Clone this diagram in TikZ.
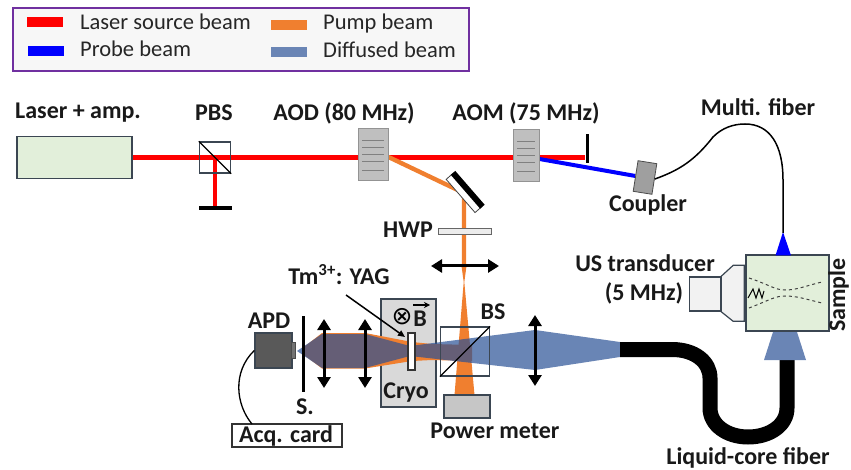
\documentclass[tikz,border=0pt]{standalone}
\usepackage{fontspec}
\setmainfont{Carlito}
\newfontfamily\symfont{DejaVu Sans}
\usetikzlibrary{arrows.meta,backgrounds,calc}
\definecolor{laserred}{HTML}{FF0000}
\definecolor{probeblue}{HTML}{0000FF}
\definecolor{pumporange}{HTML}{F07F2F}
\definecolor{diffblue}{HTML}{6A85B5}
\definecolor{diffbase}{RGB}{42,81,149}
\definecolor{paleGreen}{HTML}{E2EFDA}
\definecolor{edgeSlate}{HTML}{3B4652}
\definecolor{legendEdge}{HTML}{7030A0}

\begin{document}
\begin{tikzpicture}[
  x=1pt,
  y=-1pt,
  >={Triangle[width=13pt,length=11pt]},
  box/.style={
    rectangle,
    draw=edgeSlate,
    line width=1.4pt,
    inner sep=0pt
  },
  swatch/.style={rectangle, minimum width=36pt, minimum height=10pt, inner sep=0pt},
  aoblock/.style={box, draw=gray!85, fill=gray!50, line width=1pt},
  stopbar/.style={rectangle, fill=black, inner sep=0pt},
  gratline/.style={draw=gray, line width=1pt},
  lens/.style={draw=black, line width=3pt, <->},
  redbeam/.style={draw=laserred, line width=4.2pt},
  bluebeam/.style={draw=probeblue, line width=4pt},
  orangebeam/.style={draw=pumporange, line width=4.4pt},
  label/.style={font=\fontsize{24}{28}\selectfont\bfseries, text=black!90, inner sep=0pt, align=center, anchor=base},
  legendtext/.style={font=\fontsize{22.5}{26}\selectfont, text=black!85, inner sep=0pt, anchor=base west}
]
\useasboundingbox (0,0) rectangle (851,470);

% ---------------------------------------------------------------------------
% Legend
% ---------------------------------------------------------------------------
\node[rectangle, draw=legendEdge, fill=gray!6, line width=1.6pt, minimum width=456pt, minimum height=63pt] (legend) at (241,39.5) {};
\node[swatch, fill=laserred] (swred) at (45,22) {};
\node[swatch, fill=probeblue] (swblue) at (45.5,51) {};
\node[swatch, fill=pumporange] (sworange) at (289,25) {};
\node[swatch, fill=diffblue] (swdiff) at (289,52) {};
\node[legendtext] (txtred) at (80,30) {Laser source beam};
\node[legendtext] (txtblue) at (80,57) {Probe beam};
\node[legendtext] (txtorange) at (323,29.5) {Pump beam};
\node[legendtext] (txtdiff) at (323,58) {Diffused beam};

% ---------------------------------------------------------------------------
% Upper rail
% ---------------------------------------------------------------------------
\node[box, fill=paleGreen, minimum width=115pt, minimum height=42pt] (laser) at (74.5,157.5) {};
\node[label] (laserlabel) at (78,119) {Laser + amp.};
\node[box, line width=1.3pt, minimum size=31pt] (pbs) at (215,157.5) {};
\node[label] (pbslabel) at (214,121) {PBS};
\draw[line width=1.3pt] (pbs.north west) -- (pbs.south east);
\node[stopbar, minimum width=33pt, minimum height=4pt] (pbsstop) at (215,208) {};

\node[aoblock, minimum width=30pt, minimum height=52pt] (aod) at (373,155) {};
\node[label] (aodlabel) at (344,121) {AOD (80 MHz)};
\node[aoblock, minimum width=26pt, minimum height=52pt] (aom) at (526,156) {};
\node[label] (aomlabel) at (526,121) {AOM (75 MHz)};
\foreach \dy in {-14,-7,0,7,16} {
  \draw[gratline] ($(aod)+(-11,\dy)$) -- ++(22,0);
  \draw[gratline] ($(aom)+(-9,\dy)$) -- ++(18,0);
}
\node[stopbar, minimum width=3pt, minimum height=29pt] (aomstop) at (587,148.5) {};

\node[rectangle, draw=black!75, fill=white, line width=.8pt, minimum width=44pt, minimum height=9pt, inner sep=0pt, rotate=-49] (mirror) at (464,193) {};
\draw[line width=6pt] (mirror.north west) -- (mirror.north east);
\node[rectangle, draw=gray!80!black, fill=gray!15, line width=1pt, minimum width=53pt, minimum height=6pt, inner sep=0pt] (hwp) at (464.5,232) {};
\node[label] (hwplabel) at (408,238) {HWP};
\coordinate (focusL) at (431,266);
\coordinate (focusR) at (499,266);
\draw[lens] (focusL) -- (focusR);

\node[rectangle, draw=gray!60!black, fill=gray!75, line width=.8pt, minimum width=19pt, minimum height=31pt, inner sep=0pt, rotate=-9] (coupler) at (645,177.5) {};
\node[label] (couplerlabel) at (648,212) {Coupler};
\node[label] (multilabel) at (758,116) {Multi. fiber};

% ---------------------------------------------------------------------------
% Detection rail
% ---------------------------------------------------------------------------
\node[box, line width=1.4pt, fill=black!65, minimum width=37pt, minimum height=35pt] (apd) at (273.5,350.5) {};
\node[rectangle, draw=black!70, fill=black!55, minimum width=4pt, minimum height=16pt, inner sep=0pt] (apdwin) at (293,350.5) {};
\node[label] (apdlabel) at (269,328) {APD};
\node[stopbar, minimum width=3pt, minimum height=76pt] (slit) at (303,354) {};
\node[label] (slitlabel) at (305,414) {S.};
\node[rectangle, draw=black!80, line width=1.3pt, minimum width=110pt, minimum height=23pt, inner sep=0pt] (acq) at (287,435.5) {};
\node[label] (acqlabel) at (286,442) {Acq. card};
\coordinate (acqtop) at (252,424);
\draw[line width=1.3pt] (apd.west) .. controls (232,372) and (236,405) .. (acqtop);

\coordinate (lensAa) at (324,319);
\coordinate (lensAb) at (324,388);
\coordinate (lensBa) at (365,319);
\coordinate (lensBb) at (365,388);
\coordinate (lensCa) at (535,315);
\coordinate (lensCb) at (535,386);
\draw[lens] (lensAa) -- (lensAb);
\draw[lens] (lensBa) -- (lensBb);
\draw[lens] (lensCa) -- (lensCb);

\node[rectangle, draw=black!80, fill=white, line width=1.2pt, minimum width=7pt, minimum height=37pt, inner sep=0pt] (crystal) at (411.5,351.5) {};
\node[label] (cryolabel) at (406,398) {Cryo};
\node[font=\symfont\fontsize{25}{26}\selectfont, inner sep=0pt] (otimes) at (402,317) {⊗};
\node[label] (bfield) at (420,326) {B};
\coordinate (bfieldL) at (413,305);
\coordinate (bfieldR) at (430,305);
\draw[line width=1.4pt, -{Stealth[width=6pt,length=6pt]}] (bfieldL) -- (bfieldR);
\node[label] (tmlabel) at (339,285) {Tm\textsuperscript{3+}: YAG};
\coordinate (tmtail) at (346,295);
\coordinate (tmtip) at (405,337);
\draw[line width=1.5pt, -{Triangle[width=6pt,length=7pt]}] (tmtail) -- (tmtip);

\node[rectangle, draw=edgeSlate, line width=1.2pt, minimum size=49pt, inner sep=0pt] (bs) at (465,351.5) {};
\node[label] (bslabel) at (493,319) {BS};
\draw[line width=1.2pt] (bs.south west) -- (bs.north east);
\node[box, fill=gray!45, line width=1.3pt, minimum width=46pt, minimum height=23pt] (meter) at (467,406.5) {};
\node[label] (meterlabel) at (495,438) {Power meter};

% ---------------------------------------------------------------------------
% Sample side
% ---------------------------------------------------------------------------
\node[box, fill=paleGreen, minimum width=83pt, minimum height=76pt] (sample) at (787.5,293) {};
\node[label, rotate=90] (samplelabel) at (845,295) {Sample};
\node[label] (uslabel) at (645,272) {US transducer};
\node[label] (usfreq) at (644,301) {(5 MHz)};
\node[box, fill=gray!10, minimum width=31pt, minimum height=34pt] (transducer) at (705,294) {};
\draw[draw=edgeSlate, fill=gray!10, line width=1.2pt] (transducer.north east) -- ++(12,-11) -- ++(11,0) -- ++(0,56) -- ++(-11,0) -- (transducer.south east) -- cycle;
\draw[line width=1pt, dashed, draw=black!75] (749,278) .. controls (770,285) and (775,290) .. (785,290) .. controls (797,290) and (805,286) .. (822,282);
\draw[line width=1pt, dashed, draw=black!75] (749,308) .. controls (770,300) and (775,296) .. (785,296) .. controls (797,296) and (805,299) .. (822,303);
\draw[line width=1pt] (748,298) -- (753,289) -- (756,298) -- (759,289) -- (762,298) -- (764,291);

\coordinate (fiberend) at (620,349.5);
\coordinate (fibertop) at (787,359);
\draw[line width=15pt] (fiberend) -- (672,349.5) .. controls (695,349.5) and (710,362) .. (710,378) -- (710,408) .. controls (710,425) and (727,437) .. (748,437) .. controls (770,437) and (787,425) .. (787,408) -- (fibertop);
\node[label] (liquidlabel) at (748,464) {Liquid-core fiber};

% thin fiber and the two cones on the sample
\fill[probeblue] (783,232) -- (791,255.5) -- (775.5,255.5) -- cycle;
\coordinate (fiberhead) at (783,233);
\draw[line width=1.5pt] (coupler.east) .. controls (680,170) and (695,160) .. (713,137) .. controls (722,128) and (733,124) .. (745,124) .. controls (770,124) and (783,145) .. (783,180) -- (fiberhead);
\fill[diffblue] (773,332) -- (797,332) -- (806,360) -- (764,360) -- cycle;

% ---------------------------------------------------------------------------
% Beams, kept under the optics
% ---------------------------------------------------------------------------
\begin{pgfonlayer}{background}
  \node[box, fill=gray!30, line width=1.5pt, minimum width=55pt, minimum height=108pt] (cryo) at (408.5,353) {};
  \draw[redbeam] (laser.east) -- (pbs.center) -- (aod.west |- pbs.center);
  \draw[redbeam] (pbs.center) -- (pbsstop);
  \draw[redbeam] (aod.east |- pbs.center) -- (aom.west |- pbs.center);
  \draw[redbeam] (aom.east |- pbs.center) -- (aomstop.west |- pbs.center);
  \draw[bluebeam] (aom.east |- 0,159) -- (coupler.west);
  \draw[orangebeam] (aod.east |- 0,157) -- (mirror.center) -- (mirror.center |- focusL);
  % pump cones
  \fill[pumporange] (461.5,266) -- (466.5,266) -- (464.3,282) -- (474.5,395) -- (454.5,395) -- (463.7,282) -- cycle;
  \fill[pumporange] (472,345) -- (472,361) -- (432,360) -- (412,361) -- (365,368.5) -- (322,368.5) -- (304,355) -- (304,347) -- (322,333) -- (365,333) -- (412,342) -- (432,344) -- cycle;
  % diffused cones
  \fill[diffbase, fill opacity=.7] (297,351) -- (322,334) -- (365,334) -- (410,346) -- (535,330) -- (620,342) -- (620,357) -- (535,370) -- (410,356) -- (365,368) -- (322,368) -- cycle;
\end{pgfonlayer}

\end{tikzpicture}
\end{document}
